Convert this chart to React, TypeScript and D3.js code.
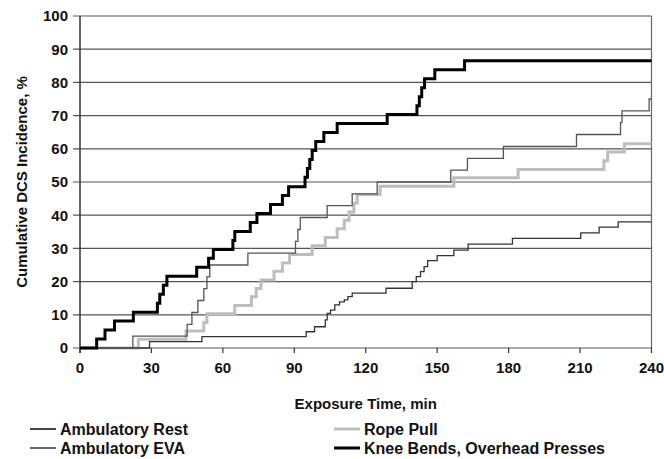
import React from "react";
import * as d3 from "d3";

const xTicks = [0, 30, 60, 90, 120, 150, 180, 210, 240];
const yTicks = [0, 10, 20, 30, 40, 50, 60, 70, 80, 90, 100];

const restT = [0, 29.2, 51.2, 95, 98.5, 103, 103.8, 105.2, 107, 109, 111, 112.5, 114.3, 128.5, 139.5, 141.2, 143, 144.5, 146, 150, 157, 163, 181.6, 210.3, 218, 226];
const restV = [0, 1.9, 3.4, 4.9, 6.4, 8.5, 10.4, 11.4, 13.0, 13.9, 14.5, 15.5, 16.5, 18.0, 20.0, 21.5, 23.0, 24.5, 26.3, 27.8, 29.5, 31.3, 33.0, 34.7, 36.4, 38.0];

const evaT = [0, 22.2, 45, 47, 49.5, 52, 53.3, 54.5, 70.5, 90.5, 91.5, 92.5, 103.8, 114.3, 124.8, 155.7, 162.7, 177.8, 208.5, 227, 227.6, 239];
const evaV = [0, 3.6, 7.1, 10.7, 14.3, 17.9, 21.4, 25.0, 28.6, 32.1, 35.7, 39.3, 42.9, 46.4, 50.0, 53.6, 57.1, 60.7, 64.3, 67.9, 71.4, 75.0];

const ropeT = [0, 24.5, 44.5, 52, 53.3, 65, 72, 74, 76, 81.5, 85, 88, 97.5, 103, 108, 111, 113, 115, 116.4, 126, 157, 184, 220, 221.6, 228.6];
const ropeV = [0, 2.6, 5.1, 7.7, 10.3, 12.8, 15.4, 17.9, 20.5, 23.1, 25.6, 28.2, 30.8, 33.3, 35.9, 38.5, 41.0, 43.6, 46.2, 48.7, 51.3, 53.8, 56.4, 59.0, 61.5];

const kneeT = [0, 7, 10.5, 14.5, 22.4, 32.5, 33.5, 35, 36.5, 49, 54, 56, 64.2, 65, 71.5, 74.3, 80, 85, 87.6, 94.5, 95.5, 96.5, 97.5, 99, 102.4, 108, 129, 141.5, 142.5, 143.5, 144.7, 149, 161.5];
const kneeV = [0, 2.7, 5.4, 8.1, 10.8, 13.5, 16.2, 18.9, 21.6, 24.3, 27.0, 29.7, 32.4, 35.1, 37.8, 40.5, 43.2, 45.9, 48.6, 51.4, 54.1, 56.8, 59.5, 62.2, 64.9, 67.6, 70.3, 73.0, 75.7, 78.4, 81.1, 83.8, 86.5];

const seriesNames = ["Ambulatory Rest", "Ambulatory EVA", "Rope Pull", "Knee Bends, Overhead Presses"];

const FONT = "'Liberation Sans', Arial, sans-serif";

export default function App() {
  const W = 664, H = 459;
  const x = d3.scaleLinear().domain([0, 240]).range([80, 651.5]);
  const y = d3.scaleLinear().domain([0, 100]).range([348, 16]);

  const mk = (t: number[], v: number[]) => {
    const pts: [number, number][] = t.map((ti, i) => [ti, v[i]]);
    pts.push([240, v[v.length - 1]]);
    return d3.line<[number, number]>().x(d => x(d[0])).y(d => y(d[1])).curve(d3.curveStepAfter)(pts) || "";
  };

  const series = [
    { name: seriesNames[2], d: mk(ropeT, ropeV), color: "#bdbdbd", w: 3 },
    { name: seriesNames[0], d: mk(restT, restV), color: "#333", w: 1.3 },
    { name: seriesNames[1], d: mk(evaT, evaV), color: "#555", w: 1.3 },
    { name: seriesNames[3], d: mk(kneeT, kneeV), color: "#000", w: 3 },
  ];

  const legend = [
    { name: seriesNames[0], color: "#444", w: 2, lx: 30, ly: 429 },
    { name: seriesNames[1], color: "#666", w: 2, lx: 30, ly: 448 },
    { name: seriesNames[2], color: "#bdbdbd", w: 3, lx: 334, ly: 429 },
    { name: seriesNames[3], color: "#000", w: 3, lx: 334, ly: 448 },
  ];

  return (
    <svg width={W} height={H} style={{ position: "absolute", left: 0, top: 0, background: "#fff" }} fontFamily={FONT}>
      <rect x={0} y={0} width={W} height={H} fill="#fff" />
      {yTicks.map(t => (
        <line key={"g" + t} x1={73} x2={x(240)} y1={y(t)} y2={y(t)} stroke="#555" strokeWidth={1.2} />
      ))}
      <line x1={x(0)} x2={x(0)} y1={y(100)} y2={y(0) + 5} stroke="#333" strokeWidth={1.5} />
      <line x1={x(240)} x2={x(240)} y1={y(100)} y2={y(0)} stroke="#666" strokeWidth={1.2} />
      {xTicks.map(t => (
        <line key={"xt" + t} x1={x(t)} x2={x(t)} y1={y(0)} y2={y(0) + 5} stroke="#333" strokeWidth={1.2} />
      ))}
      {series.map(s => (
        <path key={s.name} d={s.d} fill="none" stroke={s.color} strokeWidth={s.w} strokeLinejoin="miter" />
      ))}
      {yTicks.map(t => (
        <text key={"yl" + t} x={68} y={y(t)} dy="0.36em" textAnchor="end" fontSize={15} fontWeight="bold" fill="#111">{t}</text>
      ))}
      {xTicks.map(t => (
        <text key={"xl" + t} x={x(t)} y={373} textAnchor="middle" fontSize={15} fontWeight="bold" fill="#111">{t}</text>
      ))}
      <text x={(x(0) + x(240)) / 2} y={409} textAnchor="middle" fontSize={15} fontWeight="bold" fill="#111">Exposure Time, min</text>
      <text transform={`translate(27,${(y(0) + y(100)) / 2}) rotate(-90)`} textAnchor="middle" fontSize={15} fontWeight="bold" fill="#111">Cumulative DCS Incidence, %</text>
      {legend.map(l => (
        <g key={"lg" + l.name}>
          <line x1={l.lx} x2={l.lx + 26} y1={l.ly} y2={l.ly} stroke={l.color} strokeWidth={l.w} />
          <text x={l.lx + 30} y={l.ly} dy="0.36em" fontSize={16} fontWeight="bold" fill="#111">{l.name}</text>
        </g>
      ))}
    </svg>
  );
}
